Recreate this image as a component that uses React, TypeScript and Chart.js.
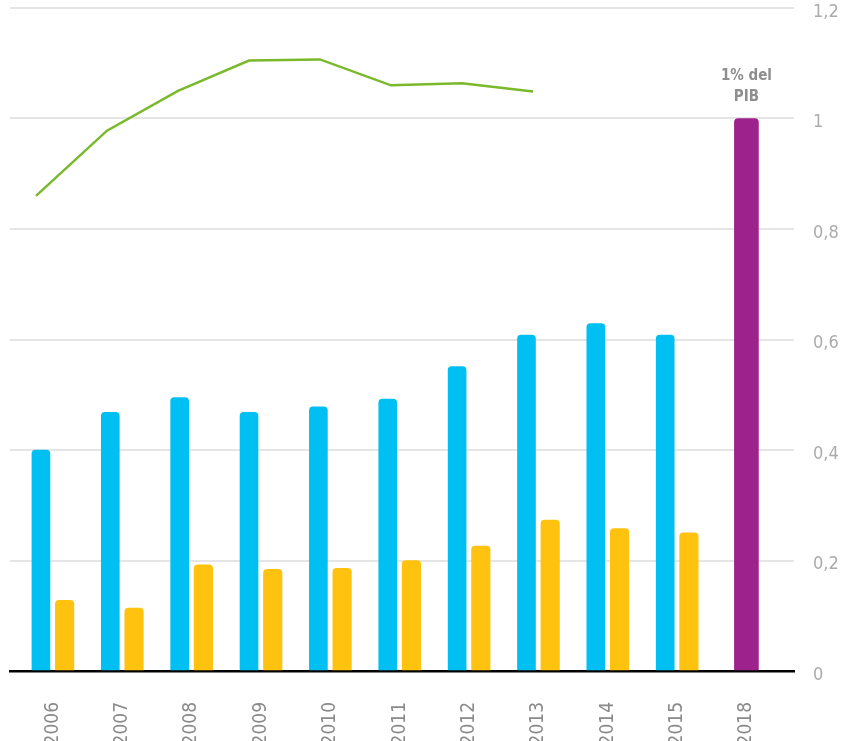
import React, { useEffect, useRef } from 'react';
import { Chart, registerables } from 'chart.js';

Chart.register(...registerables);

// ---- data ----
const years = ['2006', '2007', '2008', '2009', '2010', '2011', '2012', '2013', '2014', '2015', '2018'];
const blueValues = [0.4, 0.468, 0.495, 0.468, 0.478, 0.492, 0.551, 0.608, 0.629, 0.608];
const yellowValues = [0.128, 0.114, 0.192, 0.184, 0.186, 0.2, 0.226, 0.273, 0.258, 0.25];
const purpleYear = '2018';
const purpleValue = 1.0;
const lineYears = [2006, 2007, 2008, 2009, 2010, 2011, 2012, 2013];
const lineValues = [0.86, 0.978, 1.05, 1.105, 1.107, 1.06, 1.064, 1.049];
const yTickValues = [0, 0.2, 0.4, 0.6, 0.8, 1, 1.2];
const annotationLines = ['1% del', 'PIB'];

const FONT = "'Liberation Sans Narrow', 'DejaVu Sans Condensed', 'Liberation Sans', sans-serif";
const BLUE = 'rgb(0,192,243)';
const YELLOW = 'rgb(255,194,14)';
const PURPLE = 'rgb(158,34,140)';
const GREEN = 'rgb(122,185,44)';

// category axis range (index units) and the half-spacing between paired bars
const X_MIN = -0.617;
const X_MAX = 10.686;
const PAIR_SHIFT = 0.171;

const annotationPlugin = {
  id: 'pibLabel',
  afterDatasetsDraw(chart: any) {
    const meta = chart.getDatasetMeta(2);
    const el = meta && meta.data && meta.data[0];
    if (!el) return;
    const ctx = chart.ctx;
    ctx.save();
    ctx.font = `bold 15px ${FONT}`;
    ctx.fillStyle = '#8e8e8e';
    ctx.textAlign = 'center';
    ctx.textBaseline = 'middle';
    const n = annotationLines.length;
    annotationLines.forEach((t, i) => {
      ctx.fillText(t, el.x, el.y - 21 * (n - i));
    });
    ctx.restore();
  },
};

const hiddenAxis = (shift: number) => ({
  type: 'linear',
  display: false,
  offset: false,
  min: X_MIN + shift,
  max: X_MAX + shift,
});

export default function App() {
  const ref = useRef<HTMLCanvasElement>(null);
  useEffect(() => {
    document.body.style.margin = '0';
    const canvas = ref.current;
    if (!canvas) return;
    const chart = new Chart(canvas, {
      type: 'bar',
      data: {
        datasets: [
          {
            type: 'bar',
            data: blueValues.map((v, i) => ({ x: i, y: v })),
            backgroundColor: BLUE,
            borderRadius: 4,
            barThickness: 18,
            grouped: false,
            xAxisID: 'xBlue',
          },
          {
            type: 'bar',
            data: yellowValues.map((v, i) => ({ x: i, y: v })),
            backgroundColor: YELLOW,
            borderRadius: 4,
            barThickness: 18.5,
            grouped: false,
            xAxisID: 'xYellow',
          },
          {
            type: 'bar',
            data: [{ x: years.indexOf(purpleYear), y: purpleValue }],
            backgroundColor: PURPLE,
            borderRadius: 4,
            barThickness: 24,
            grouped: false,
            xAxisID: 'xPurple',
          },
          {
            type: 'line',
            data: lineYears.map((yr, i) => ({ x: yr, y: lineValues[i] })),
            borderColor: GREEN,
            borderWidth: 2.5,
            pointRadius: 0,
            tension: 0,
            fill: false,
            xAxisID: 'xLine',
          },
        ] as any,
      },
      options: {
        responsive: false,
        animation: false,
        layout: { padding: { left: 10, top: 8, right: 0, bottom: 0 } },
        plugins: { legend: { display: false }, tooltip: { enabled: false } },
        scales: {
          x: {
            type: 'linear',
            min: X_MIN,
            max: X_MAX,
            offset: false,
            z: 1,
            grid: { display: false, drawTicks: false, offset: false },
            border: { display: true, color: '#000', width: 2.5 },
            afterBuildTicks: (scale: any) => {
              scale.ticks = years.map((_, i) => ({ value: i }));
            },
            afterFit: (scale: any) => {
              scale.height = 70;
              scale.paddingLeft = 0;
              scale.paddingRight = 0;
            },
            ticks: {
              autoSkip: false,
              minRotation: 90,
              maxRotation: 90,
              padding: 31,
              color: '#8a8a8a',
              font: { family: FONT, size: 19 },
              callback: (v: any) => years[v as number] ?? '',
            },
          },
          xBlue: hiddenAxis(PAIR_SHIFT),
          xYellow: hiddenAxis(-PAIR_SHIFT),
          xPurple: hiddenAxis(0),
          xLine: {
            type: 'linear',
            display: false,
            offset: false,
            min: 2005.634,
            max: 2016.676,
          },
          y: {
            position: 'right',
            min: 0,
            max: 1.2,
            z: 1,
            grid: { color: 'rgba(0,0,0,0.1)', lineWidth: 2, drawTicks: false },
            border: { display: false },
            afterBuildTicks: (scale: any) => {
              scale.ticks = yTickValues.map((v) => ({ value: v }));
            },
            afterFit: (scale: any) => {
              scale.width = 57;
              scale.paddingTop = 0;
              scale.paddingBottom = 0;
            },
            ticks: {
              padding: 19,
              labelOffset: 4,
              color: '#ababab',
              font: { family: FONT, size: 18 },
              callback: (v: any) => String(parseFloat(Number(v).toFixed(1))).replace('.', ','),
            },
          },
        },
      } as any,
      plugins: [annotationPlugin],
    });
    return () => chart.destroy();
  }, []);
  return (
    <div style={{ width: 851, height: 741 }}>
      <canvas ref={ref} width={851} height={741} style={{ display: 'block' }} />
    </div>
  );
}
